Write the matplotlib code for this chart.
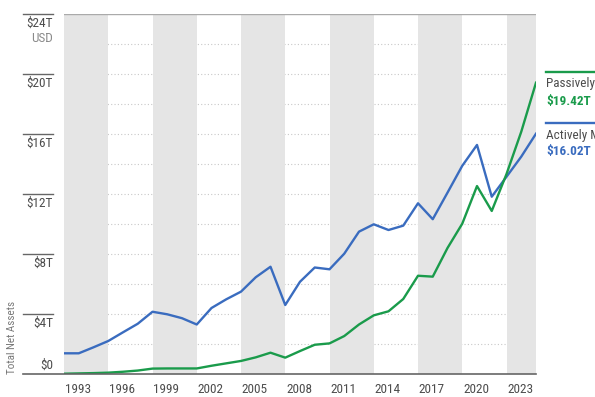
import numpy as np
import matplotlib
matplotlib.use("Agg")
import matplotlib.pyplot as plt
from matplotlib import font_manager

# ---- data (trillions USD, year-end) ----
years = list(range(1992, 2025))
active = [1.38, 1.38, 1.78, 2.20, 2.78, 3.35, 4.15, 3.98, 3.72, 3.30,
          4.40, 4.98, 5.49, 6.45, 7.15, 4.60, 6.15, 7.10, 6.98, 8.02,
          9.49, 9.98, 9.60, 9.89, 11.38, 10.32, 12.09, 13.88, 15.27, 11.82,
          13.15, 14.49, 16.02]
passive = [0.02, 0.04, 0.06, 0.09, 0.15, 0.23, 0.36, 0.37, 0.37, 0.37,
           0.55, 0.71, 0.87, 1.11, 1.42, 1.09, 1.53, 1.95, 2.04, 2.53,
           3.30, 3.91, 4.18, 5.00, 6.55, 6.49, 8.40, 10.02, 12.53, 10.87,
           13.33, 16.15, 19.42]
y_ticks = [0, 4, 8, 12, 16, 20, 24]
y_labels = ["$0", "$4T", "$8T", "$12T", "$16T", "$20T", "$24T"]
x_tick_years = [1993, 1996, 1999, 2002, 2005, 2008, 2011, 2014, 2017, 2020, 2023]
series_names = ["Passively Managed", "Actively Managed"]
series_values = ["$19.42T", "$16.02T"]

# ---- fonts: prefer a condensed face if one exists ----
ttf = font_manager.fontManager.ttflist
family = "Roboto"
stretch = "normal"
cond = [f for f in ttf if ("Narrow" in f.name or "Condensed" in f.name)]
if cond:
    pref = [f.name for f in cond if f.name.startswith(("Roboto", "Liberation"))]
    family = pref[0] if pref else cond[0].name
else:
    cs = [f for f in ttf if str(f.stretch) in ("condensed", "semi-condensed", "375", "500")]
    if cs:
        family = cs[0].name
        stretch = "condensed"
plt.rcParams["font.family"] = [family, "DejaVu Sans"]
plt.rcParams["font.stretch"] = stretch
narrow = family != "Roboto"
fs = 9.5 if narrow else 8.5

GREEN = "#1a9b4b"
BLUE = "#3a6cbf"
BAND = "#e5e5e5"
TXT = "#4d4d4d"

W, H = 595, 397
fig = plt.figure(figsize=(W / 100, H / 100), dpi=100)
ax = fig.add_axes([64 / W, (H - 374) / H, 472 / W, 360 / H])
ax.set_xlim(1993, 2025)
ax.set_ylim(0, 24)
for s in ax.spines.values():
    s.set_visible(False)
ax.set_xticks([])
ax.set_yticks([])

# bands
for i, y0 in enumerate(x_tick_years):
    if i % 2 == 0:
        ax.axvspan(y0, min(y0 + 3, 2025), color=BAND, lw=0, zorder=1)

# dotted gridlines
for g in range(2, 24, 2):
    ax.axhline(g, color="#c8c8c8", lw=0.8, ls=(0, (1, 2)), zorder=0.5)

# top line
ax.axhline(24, color="#aaaaaa", lw=1.0, zorder=2)

xs = np.array(years) + 1
ax.plot(xs, active, color=BLUE, lw=1.7, zorder=4)
ax.plot(xs, passive, color=GREEN, lw=1.7, zorder=4)

# y tick marks and labels
tr = ax.get_yaxis_transform()
x_l0, x_l1 = (23 - 64) / 472, (53 - 64) / 472
for v, lab in zip(y_ticks, y_labels):
    if v == 0:
        ax.plot([x_l0, 1.0], [0, 0], transform=tr, color="#666666", lw=1.2,
                clip_on=False, zorder=5)
        ax.text(x_l1, 0.55, lab, transform=tr, ha="right", va="center",
                fontsize=fs, color=TXT)
    else:
        ax.plot([x_l0, x_l1], [v, v], transform=tr, color="#666666", lw=1.0,
                clip_on=False)
        ax.text(x_l1, v - 0.65, lab, transform=tr, ha="right", va="center",
                fontsize=fs, color=TXT)
ax.text(x_l1, 24 - 1.65, "USD", transform=tr, ha="right", va="center",
        fontsize=fs, color="#8a8a8a")

# x tick labels (left aligned at band starts)
xtr = ax.get_xaxis_transform()
for yr in x_tick_years:
    ax.text(yr + 0.05, -0.025, str(yr), transform=xtr, ha="left", va="top",
            fontsize=fs, color=TXT)

# y-axis title
fig.text(12 / W, (H - 374) / H, "Total Net Assets", rotation=90,
         ha="center", va="bottom", fontsize=(8 if narrow else 7.5),
         color="#777777")

# legend at right
for (ly, col, nm, val) in [(72, GREEN, series_names[0], series_values[0]),
                           (123, BLUE, series_names[1], series_values[1])]:
    fig.add_artist(plt.Line2D([546 / W, 1.0], [(H - ly) / H, (H - ly) / H],
                              color=col, lw=1.7, transform=fig.transFigure))
    fig.text(546 / W, (H - ly - 12) / H, nm, ha="left", va="center",
             fontsize=fs, color=TXT)
    fig.text(546 / W, (H - ly - 29) / H, val, ha="left", va="center",
             fontsize=9.5, color=col, fontweight="bold")

fig.savefig("out.png", dpi=100)
